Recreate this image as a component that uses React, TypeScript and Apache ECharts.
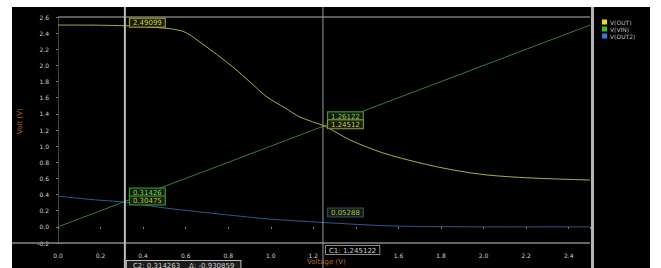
import React, { useEffect, useRef } from "react";
import * as echarts from "echarts";

const xTicks = ["0.0", "0.2", "0.4", "0.6", "0.8", "1.0", "1.2", "1.4", "1.6", "1.8", "2.0", "2.2", "2.4"];
const hiddenTick = "1.4"; // covered by the C1 readout box in the reference
const seriesNames = ["V(OUT)", "V(VIN)", "V(OUT2)"];

const outX = [0, 0.1, 0.2, 0.315, 0.432, 0.583, 0.667, 0.822, 0.902, 0.982, 1.067, 1.137, 1.255, 1.372, 1.527, 1.701, 1.856, 2.016, 2.218, 2.486, 2.5];
const outY = [2.5, 2.5, 2.498, 2.491, 2.476, 2.427, 2.29, 1.98, 1.795, 1.61, 1.473, 1.36, 1.245, 1.077, 0.916, 0.792, 0.705, 0.643, 0.606, 0.581, 0.58];

const vinX = [0, 2.5];
const vinY = [0, 2.5];

const out2X = [0, 0.15, 0.315, 0.5, 0.667, 0.98, 1.255, 1.527, 1.7, 2.0, 2.5];
const out2Y = [0.38, 0.34, 0.305, 0.235, 0.185, 0.1, 0.053, 0.015, 0.005, 0.0, 0.0];

const cursor1 = 0.314263;
const cursor2 = 1.245122;

const zip = (xs: number[], ys: number[]) => xs.map((x, i) => [x, ys[i]]);

export default function App() {
  const ref = useRef<HTMLDivElement>(null);
  useEffect(() => {
    if (!ref.current) return;
    const chart = echarts.init(ref.current, null, { renderer: "svg" });
    const font = "DejaVu Sans";
    chart.setOption({
      animation: false,
      backgroundColor: "#ffffff",
      textStyle: { fontFamily: font, color: "#c8c8c8" },
      legend: {
        orient: "vertical",
        left: 597,
        top: 14,
        itemWidth: 5,
        itemHeight: 5,
        itemGap: 1,
        icon: "rect",
        data: [
          { name: seriesNames[0], itemStyle: { color: "#e4e400" } },
          { name: seriesNames[1], itemStyle: { color: "#30c030" } },
          { name: seriesNames[2], itemStyle: { color: "#2a7fe0" } },
        ],
        textStyle: { color: "#bdbdbd", fontSize: 6, padding: [0, 0, 0, -2] },
      },
      grid: { left: 58, right: 71, top: 17, bottom: 25 },
      xAxis: {
        type: "value",
        min: 0,
        max: 2.5,
        interval: 0.2,
        axisLine: { show: false },
        axisTick: { show: true, length: 2, lineStyle: { color: "#888" } },
        splitLine: { show: false },
        axisLabel: {
          color: "#d0d0d0",
          fontSize: 6,
          margin: 9,
          formatter: (v: number) => {
            const t = xTicks[Math.round(v / 0.2)] ?? "";
            return t === hiddenTick ? "" : t;
          },
        },
      },
      yAxis: {
        type: "value",
        min: -0.2,
        max: 2.6,
        interval: 0.2,
        axisLine: { show: true, lineStyle: { color: "#555", type: "dotted" } },
        axisTick: { show: true, length: 2, lineStyle: { color: "#777" } },
        splitLine: { show: false },
        axisLabel: {
          color: "#d0d0d0",
          fontSize: 6,
          margin: 9,
          formatter: (v: number) => v.toFixed(1),
        },
      },
      series: [
        {
          name: seriesNames[0],
          type: "line",
          data: zip(outX, outY),
          showSymbol: false,
          smooth: 0.3,
          lineStyle: { color: "#b2aa44", width: 1 },
          itemStyle: { color: "#e4e400" },
          z: 4,
          markLine: {
            silent: true,
            symbol: "none",
            label: { show: false },
            lineStyle: { color: "#7a7a7a", width: 1.5, type: "solid" },
            data: [{ yAxis: 2.6 }],
          },
        },
        {
          name: seriesNames[1],
          type: "line",
          data: zip(vinX, vinY),
          showSymbol: false,
          lineStyle: { color: "#347c3a", width: 1 },
          itemStyle: { color: "#30c030" },
          z: 3,
        },
        {
          name: seriesNames[2],
          type: "line",
          data: zip(out2X, out2Y),
          showSymbol: false,
          smooth: 0.3,
          lineStyle: { color: "#265c96", width: 1 },
          itemStyle: { color: "#2a7fe0" },
          z: 3,
        },
      ],
    });

    const px = (x: number, y: number) => chart.convertToPixel({ xAxisIndex: 0, yAxisIndex: 0 }, [x, y]) as number[];
    const c1 = px(cursor1, 0)[0];
    const c2 = px(cursor2, 0)[0];
    const yAxisBottom = px(0, -0.2)[1];
    const yOut1 = px(cursor1, 2.49099)[1];
    const yVin1 = px(cursor1, cursor1)[1];
    const yVin2 = px(cursor2, cursor2)[1];
    const yOut2b = px(cursor2, 0.05288)[1];
    const rightEdge = px(2.5, 0)[0];

    const box = (text: string, x: number, y: number, color: string, border: string) => ({
      type: "text",
      x,
      y,
      z: 20,
      style: {
        text,
        fill: color,
        font: `7px "${font}"`,
        backgroundColor: "rgba(20,30,10,0.85)",
        borderColor: border,
        borderWidth: 1,
        padding: [1, 3, 0, 3],
      },
    });

    chart.setOption({
      graphic: [
        { type: "rect", z: -100, shape: { x: 12, y: 7, width: 638, height: 261 }, style: { fill: "#000000" } },
        { type: "rect", z: 10, shape: { x: rightEdge + 1, y: 7, width: 3, height: 261 }, style: { fill: "#b4b4b4" } },
        { type: "line", z: 5, shape: { x1: 12, y1: yAxisBottom, x2: rightEdge, y2: yAxisBottom }, style: { stroke: "#8a8a8a", lineWidth: 1.5 } },
        { type: "line", z: 6, shape: { x1: c1, y1: 7, x2: c1, y2: 268 }, style: { stroke: "#bdbdbd", lineWidth: 2 } },
        { type: "line", z: 6, shape: { x1: c2, y1: 7, x2: c2, y2: 268 }, style: { stroke: "#9a9a9a", lineWidth: 1 } },
        box("2.49099", c1 + 5, yOut1 - 7, "#d8d040", "#a8a030"),
        box("0.31426", c1 + 5, yVin1 - 13, "#7ad060", "#3a9a3a"),
        box("0.30475", c1 + 5, yVin1 - 5, "#b8c850", "#3a9a3a"),
        box("1.26122", c2 + 5, yVin2 - 14, "#7ad060", "#3a9a3a"),
        box("1.24512", c2 + 5, yVin2 - 6, "#c8c850", "#8a9a30"),
        box("0.05288", c2 + 5, yOut2b - 14, "#a8c050", "#2a4a6a"),
        {
          type: "text",
          x: c2 + 3,
          y: yAxisBottom + 3,
          z: 20,
          style: { text: "C1: 1.245122", fill: "#d0d0d0", font: `7px "${font}"`, backgroundColor: "#000", borderColor: "#8a8a8a", borderWidth: 1, padding: [1, 3, 0, 3] },
        },
        {
          type: "text",
          x: c1 + 2,
          y: 261,
          z: 20,
          style: { text: "C2: 0.314263    Δ: -0.930859", fill: "#d0d0d0", font: `7px "${font}"`, backgroundColor: "#1a1a1a", borderColor: "#c0c0c0", borderWidth: 1, padding: [1, 6, 0, 6] },
        },
        {
          type: "text",
          x: 307,
          y: 258,
          z: 21,
          style: { text: "Voltage (V)", fill: "#b8692c", font: `7px "${font}"` },
        },
        {
          type: "text",
          x: 16,
          y: 134,
          rotation: Math.PI / 2,
          z: 21,
          style: { text: "Volt (V)", fill: "#b8692c", font: `7px "${font}"` },
        },
      ],
    });
    return () => chart.dispose();
  }, []);
  return <div ref={ref} style={{ position: "fixed", left: 0, top: 0, width: 661, height: 268 }} />;
}
